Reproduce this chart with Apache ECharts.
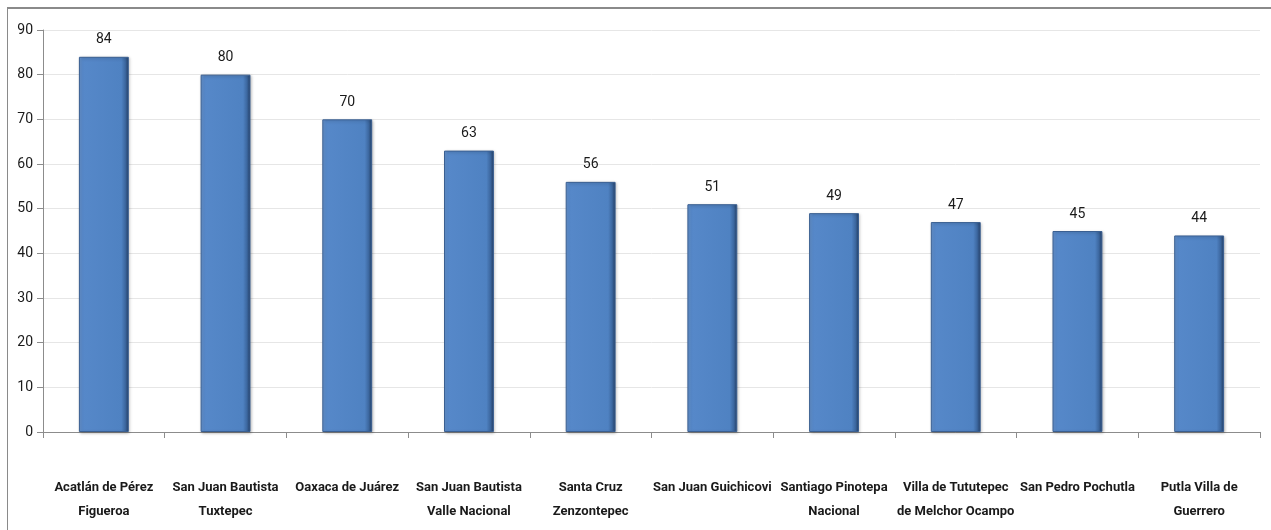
<!DOCTYPE html>
<html><head><meta charset="utf-8">
<script src="https://cdn.jsdelivr.net/npm/echarts@6/dist/echarts.min.js"></script>
<style>
html,body{margin:0;padding:0;background:#fff;}
#frame{position:absolute;left:7px;top:7px;width:1270px;height:530px;border-left:1px solid #8a8a8a;border-top:2px solid #8a8a8a;}
#c{position:absolute;left:0;top:0;width:1271px;height:530px;}
</style></head>
<body>
<div id="frame"></div>
<div id="c"></div>
<script>
const categories = ["Acatlán de Pérez\nFigueroa","San Juan Bautista\nTuxtepec","Oaxaca de Juárez","San Juan Bautista\nValle Nacional","Santa Cruz\nZenzontepec","San Juan Guichicovi","Santiago Pinotepa\nNacional","Villa de Tututepec\nde Melchor Ocampo","San Pedro Pochutla","Putla Villa de\nGuerrero"];
const values = [84,80,70,63,56,51,49,47,45,44];
const yTicks = [0,10,20,30,40,50,60,70,80,90];

const font = "Roboto,'Liberation Sans',sans-serif";
const chart = echarts.init(document.getElementById('c'), null, {renderer:'canvas'});
chart.setOption({
  animation:false,
  backgroundColor:'transparent',
  grid:{left:43,right:11,top:30,bottom:98,containLabel:false},
  xAxis:{type:'category',data:categories,
    axisLine:{lineStyle:{color:'#8c8c8c',width:1}},
    axisTick:{show:true,alignWithLabel:false,length:6,lineStyle:{color:'#8c8c8c'}},
    axisLabel:{interval:0,margin:44,lineHeight:24,fontFamily:font,fontSize:13,fontWeight:'bold',color:'#1a1a1a'}},
  yAxis:{type:'value',min:yTicks[0],max:yTicks[yTicks.length-1],interval:10,
    axisLine:{show:true,lineStyle:{color:'#8c8c8c'}},
    axisTick:{show:true,length:6,lineStyle:{color:'#8c8c8c'}},
    axisLabel:{margin:10,fontFamily:font,fontSize:14,color:'#1a1a1a'},
    splitLine:{show:true,lineStyle:{color:'#e6e6e6',width:1}}},
  series:[{type:'bar',data:values,barWidth:'41%',
    itemStyle:{
      color:new echarts.graphic.LinearGradient(0,0,1,0,[
        {offset:0,color:'#6a98d4'},{offset:0.08,color:'#5688c9'},{offset:0.85,color:'#4f82c2'},{offset:0.93,color:'#3c679f'},{offset:1,color:'#243f66'}]),
      borderColor:'#3a5f91',borderWidth:1,
      shadowColor:'rgba(0,0,0,0.25)',shadowBlur:3,shadowOffsetX:1,shadowOffsetY:1},
    label:{show:true,position:'top',distance:10,fontFamily:font,fontSize:14,color:'#1a1a1a'}
  }]
});
</script>
</body></html>
